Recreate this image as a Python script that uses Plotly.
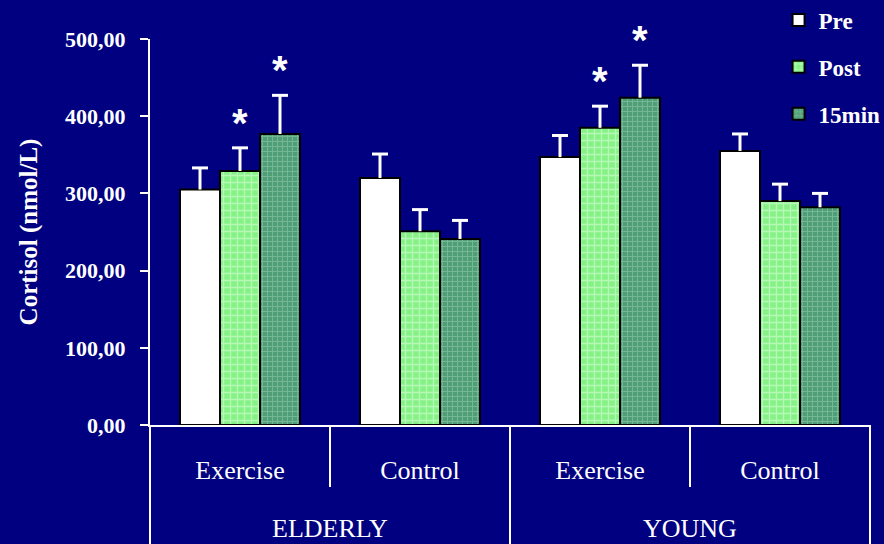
import plotly.graph_objects as go

# Cortisol (nmol/L) by age group, condition and time point
ages = ["ELDERLY", "ELDERLY", "YOUNG", "YOUNG"]
conditions = ["Exercise", "Control", "Exercise", "Control"]

pre = [305, 320, 347, 355]
post = [329, 251, 385, 290]
min15 = [377, 241, 424, 282]

pre_err = [28, 31, 28, 22]
post_err = [30, 28, 28, 22]
min15_err = [50, 24, 42, 18]

# significant change vs. Pre (series index, group index)
significant = [(1, 0), (2, 0), (1, 2), (2, 2)]

NAVY = "#000080"
SERIF = "Liberation Serif"
BARGAP = 1 / 3

W, H = 884, 544
L, R, T, B = 150, 14, 39, 119
plot_w, plot_h = W - L - R, H - T - B


def paper_y(px):
    """Pixel row -> paper y coordinate."""
    return (H - B - px) / plot_h


series = [
    ("Pre", pre, pre_err, dict(color="white")),
    ("Post", post, post_err,
     dict(color="#86F286",
          pattern=dict(shape="+", fgcolor="#E6FFE6", size=7, solidity=0.35))),
    ("15min", min15, min15_err,
     dict(color="#4F9E77",
          pattern=dict(shape="+", fgcolor="#9AD2B4", size=5, solidity=0.35))),
]

n_groups = len(conditions)
xpos = list(range(n_groups))
bar_w = (1 - BARGAP) / len(series)
cap = 8 / (plot_w / n_groups)  # half cap width in axis units

fig = go.Figure()
for s_idx, (name, vals, errs, marker) in enumerate(series):
    fig.add_trace(go.Bar(
        name=name,
        legendgroup=name,
        x=xpos,
        y=vals,
        marker=dict(marker, line=dict(color="black", width=2)),
    ))

# upward-only error bars with a cap on top
for s_idx, (name, vals, errs, _) in enumerate(series):
    ex, ey = [], []
    for g in xpos:
        xc = g + (s_idx - 1) * bar_w
        top = vals[g] + errs[g]
        ex += [xc, xc, None, xc - cap, xc + cap, None]
        ey += [vals[g], top, None, top, top, None]
    fig.add_trace(go.Scatter(
        x=ex, y=ey, mode="lines", showlegend=False, hoverinfo="skip",
        line=dict(color="white", width=3),
    ))

# significance asterisks above the error bars
for s_idx, g_idx in significant:
    _, vals, errs, _ = series[s_idx]
    fig.add_annotation(
        xref="x", yref="y",
        x=g_idx + (s_idx - 1) * bar_w,
        y=vals[g_idx] + errs[g_idx],
        text="*", showarrow=False,
        yanchor="middle", yshift=25,
        font=dict(family="Liberation Sans", size=40, color="white", weight="bold"),
    )

# category frame below the axis: condition separators and age-group separators
shapes = []
for g in range(n_groups + 1):
    outer = g == 0 or g == n_groups or ages[g - 1] != ages[g]
    shapes.append(dict(
        type="line", xref="paper", yref="paper",
        x0=g / n_groups, x1=g / n_groups,
        y0=0, y1=paper_y(H + 5) if outer else paper_y(487),
        line=dict(color="white", width=2),
    ))

# age-group labels centred under their conditions
age_names = list(dict.fromkeys(ages))
for a in age_names:
    idx = [i for i, v in enumerate(ages) if v == a]
    fig.add_annotation(
        xref="x", yref="paper",
        x=(idx[0] + idx[-1]) / 2, y=paper_y(528),
        text=a, showarrow=False, yanchor="middle",
        font=dict(family=SERIF, size=26, color="white"),
    )

fig.update_layout(
    width=W, height=H,
    margin=dict(l=L, r=R, t=T, b=B, autoexpand=False),
    paper_bgcolor=NAVY, plot_bgcolor=NAVY,
    barmode="group", bargap=BARGAP, bargroupgap=0,
    separators=", ",
    showlegend=True,
    shapes=shapes,
    legend=dict(
        x=0.873, y=1.105, xanchor="left", yanchor="top",
        bgcolor="rgba(0,0,0,0)",
        font=dict(family=SERIF, size=23, color="white", weight="bold"),
        traceorder="grouped", tracegroupgap=14,
    ),
    xaxis=dict(
        range=[-0.5, n_groups - 0.5],
        tickvals=xpos, ticktext=conditions,
        ticks="", ticklabelstandoff=21,
        showline=True, linecolor="white", linewidth=2,
        tickfont=dict(family=SERIF, size=26, color="white"),
        showgrid=False, zeroline=False,
    ),
    yaxis=dict(
        range=[0, 500], tickvals=[0, 100, 200, 300, 400, 500],
        tickformat=".2f",
        showline=True, linecolor="white", linewidth=2,
        ticks="outside", ticklen=8, tickcolor="white", tickwidth=2,
        ticklabelstandoff=10,
        showgrid=False, zeroline=False,
        tickfont=dict(family=SERIF, size=22, color="white", weight="bold"),
        title=dict(text="Cortisol (nmol/L)", standoff=20,
                   font=dict(family=SERIF, size=25, color="white", weight="bold")),
    ),
)

fig.write_html("out.html")
